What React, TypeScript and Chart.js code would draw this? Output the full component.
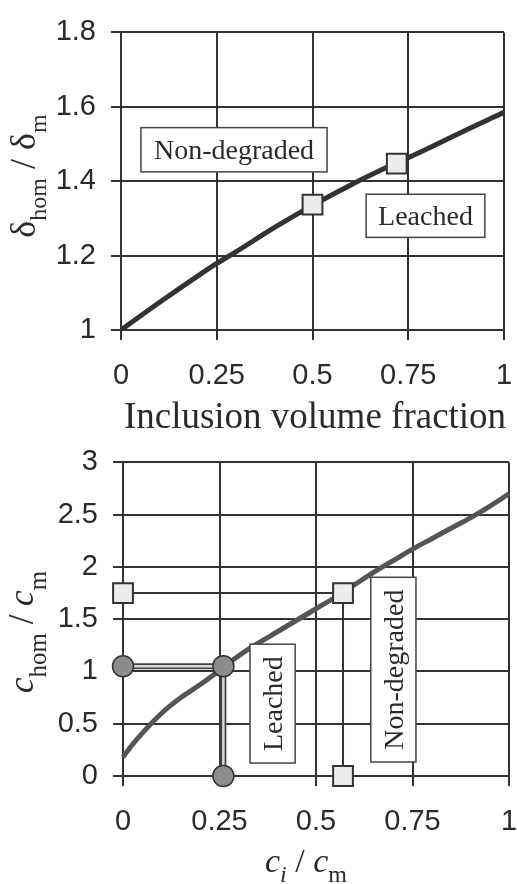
import React, { useEffect, useRef } from 'react';
import { Chart, registerables } from 'chart.js';
Chart.register(...registerables);

// ---------- Top chart data ----------
const topCurveX = [0, 0.1, 0.2, 0.25, 0.3, 0.4, 0.5, 0.6, 0.7, 0.75, 0.8, 0.9, 1];
const topCurveY = [1, 1.074, 1.145, 1.179, 1.21, 1.275, 1.335, 1.39, 1.44, 1.463, 1.487, 1.537, 1.585];
const topMarkX = [0.5, 0.72];
const topMarkY = [1.337, 1.447];
const topXTicks = [0, 0.25, 0.5, 0.75, 1];
const topYTicks = [1, 1.2, 1.4, 1.6, 1.8];

// ---------- Bottom chart data ----------
const botCurveX = [0, 0.02, 0.05, 0.1, 0.15, 0.2, 0.25, 0.3, 0.35, 0.4, 0.45, 0.5, 0.55, 0.6, 0.65, 0.7, 0.75, 0.8, 0.85, 0.9, 0.95, 1.0, 1.025];
const botCurveY = [0.18, 0.28, 0.41, 0.6, 0.75, 0.875, 1.01, 1.15, 1.27, 1.38, 1.49, 1.6, 1.71, 1.83, 1.95, 2.06, 2.17, 2.27, 2.37, 2.47, 2.58, 2.7, 2.76];
const leachedX = [0, 0.26, 0.26];
const leachedY = [1.05, 1.05, 0];
const nondegX = [0, 0.57, 0.57];
const nondegY = [1.75, 1.75, 0];
const botXTicks = [0, 0.25, 0.5, 0.75, 1];
const botYTicks = [0, 0.5, 1, 1.5, 2, 2.5, 3];

// ---------- Annotation boxes (data coordinates) ----------
const topBoxes = [
  { text: 'Non-degraded', x0: 0.052, x1: 0.538, y0: 1.425, y1: 1.544, vertical: false },
  { text: 'Leached', x0: 0.64, x1: 0.95, y0: 1.249, y1: 1.365, vertical: false },
];
const botBoxes = [
  { text: 'Leached', x0: 0.329, x1: 0.446, y0: 0.124, y1: 1.261, vertical: true },
  { text: 'Non-degraded', x0: 0.642, x1: 0.759, y0: 0.134, y1: 1.901, vertical: true },
];

const serif = '"Liberation Serif", "Times New Roman", serif';
const sans = '"Liberation Sans", Arial, sans-serif';
const ink = '#2a2a2a';

type Seg = { t: string; size: number; italic?: boolean; dy?: number };

function drawRich(ctx: CanvasRenderingContext2D, segs: Seg[], cx: number, cy: number, rotated: boolean) {
  ctx.save();
  ctx.fillStyle = ink;
  ctx.textBaseline = 'alphabetic';
  ctx.textAlign = 'left';
  const fontOf = (s: Seg) => `${s.italic ? 'italic ' : ''}${s.size}px ${serif}`;
  let total = 0;
  const widths = segs.map((s) => {
    ctx.font = fontOf(s);
    const w = ctx.measureText(s.t).width;
    total += w;
    return w;
  });
  ctx.translate(cx, cy);
  if (rotated) ctx.rotate(-Math.PI / 2);
  let x = -total / 2;
  segs.forEach((s, i) => {
    ctx.font = fontOf(s);
    ctx.fillText(s.t, x, s.dy || 0);
    x += widths[i];
  });
  ctx.restore();
}

function extrasPlugin(boxes: any[], titles: { segs: Seg[]; x: number; y: number; rot: boolean }[]) {
  return {
    id: 'extras',
    afterDatasetsDraw(chart: any) {
      const ctx = chart.ctx as CanvasRenderingContext2D;
      const xs = chart.scales.x;
      const ys = chart.scales.y;
      boxes.forEach((b) => {
        const l = xs.getPixelForValue(b.x0);
        const r = xs.getPixelForValue(b.x1);
        const t = ys.getPixelForValue(b.y1);
        const bt = ys.getPixelForValue(b.y0);
        ctx.save();
        ctx.fillStyle = '#fff';
        ctx.fillRect(l, t, r - l, bt - t);
        ctx.strokeStyle = '#444';
        ctx.lineWidth = 1.5;
        ctx.strokeRect(l, t, r - l, bt - t);
        ctx.fillStyle = ink;
        ctx.font = `28px ${serif}`;
        ctx.textAlign = 'center';
        ctx.textBaseline = 'middle';
        ctx.translate((l + r) / 2, (t + bt) / 2);
        if (b.vertical) ctx.rotate(-Math.PI / 2);
        ctx.fillText(b.text, 0, 2);
        ctx.restore();
      });
    },
    afterDraw(chart: any) {
      const ctx = chart.ctx as CanvasRenderingContext2D;
      titles.forEach((t) => drawRich(ctx, t.segs, t.x, t.y, t.rot));
    },
  };
}

function pts(xs: number[], ys: number[]) {
  return xs.map((x, i) => ({ x, y: ys[i] }));
}

function axis(min: number, max: number, tickVals: number[], isX: boolean, size: number) {
  return {
    type: 'linear',
    min,
    max,
    afterBuildTicks: (s: any) => {
      s.ticks = tickVals.map((v) => ({ value: v }));
    },
    afterFit: (s: any) => {
      if (isX) s.height = size;
      else s.width = size;
    },
    ticks: {
      autoSkip: false,
      maxRotation: 0,
      padding: isX ? 19 : 15,
      color: ink,
      font: { family: sans, size: 29 },
      callback: (v: any) => String(v),
    },
    grid: { color: '#333', lineWidth: 2, tickLength: 10, drawTicks: true },
    border: { color: '#333', width: 2 },
  };
}

function baseOptions(padTop: number, padRight: number, scales: any) {
  return {
    responsive: false,
    maintainAspectRatio: false,
    animation: false,
    events: [],
    layout: { padding: { top: padTop, right: padRight, left: 0, bottom: 0 } },
    plugins: { legend: { display: false }, tooltip: { enabled: false } },
    scales,
  };
}

function topConfig(): any {
  return {
    type: 'scatter',
    data: {
      datasets: [
        {
          data: pts(topMarkX, topMarkY),
          showLine: false,
          pointStyle: 'rect',
          pointRadius: 14,
          pointBackgroundColor: '#ececec',
          pointBorderColor: '#333',
          pointBorderWidth: 2,
          order: 0,
          clip: false,
        },
        {
          data: pts(topCurveX, topCurveY),
          showLine: true,
          pointRadius: 0,
          borderColor: '#333',
          borderWidth: 5,
          cubicInterpolationMode: 'monotone',
          order: 1,
        },
      ],
    },
    options: baseOptions(21, 36, {
      x: axis(0, 1, topXTicks, true, 100),
      y: axis(1, 1.8, topYTicks, false, 121),
    }),
    plugins: [
      extrasPlugin(topBoxes, [
        { segs: [{ t: 'Inclusion volume fraction', size: 37 }], x: 315, y: 428, rot: false },
        {
          segs: [
            { t: 'δ', size: 36 },
            { t: 'hom', size: 24, dy: 11 },
            { t: ' / ', size: 36 },
            { t: 'δ', size: 36 },
            { t: 'm', size: 24, dy: 11 },
          ],
          x: 35,
          y: 176,
          rot: true,
        },
      ]),
    ],
  };
}

function botConfig(): any {
  return {
    type: 'scatter',
    data: {
      datasets: [
        {
          data: pts(nondegX, nondegY),
          showLine: false,
          pointStyle: 'rect',
          pointRadius: 14,
          pointBackgroundColor: '#ececec',
          pointBorderColor: '#333',
          pointBorderWidth: 2,
          order: 0,
          clip: false,
        },
        {
          data: pts(leachedX, leachedY),
          showLine: false,
          pointStyle: 'circle',
          pointRadius: 10.5,
          pointBackgroundColor: '#8c8c8c',
          pointBorderColor: '#333',
          pointBorderWidth: 1.5,
          order: 0,
          clip: false,
        },
        {
          data: pts(botCurveX, botCurveY),
          showLine: true,
          pointRadius: 0,
          borderColor: '#555',
          borderWidth: 5,
          cubicInterpolationMode: 'monotone',
          order: 1,
          clip: false,
        },
        {
          data: pts(leachedX, leachedY),
          showLine: true,
          pointRadius: 0,
          borderColor: '#d8d8d8',
          borderWidth: 2.5,
          borderJoinStyle: 'miter',
          order: 2,
          clip: false,
        },
        {
          data: pts(leachedX, leachedY),
          showLine: true,
          pointRadius: 0,
          borderColor: '#444',
          borderWidth: 6,
          borderJoinStyle: 'miter',
          order: 3,
          clip: false,
        },
        {
          data: pts(nondegX, nondegY),
          showLine: true,
          pointRadius: 0,
          borderColor: '#333',
          borderWidth: 2,
          order: 3,
          clip: false,
        },
      ],
    },
    options: baseOptions(32, 31, {
      x: axis(0, 1, botXTicks, true, 108),
      y: axis(0, 3, botYTicks, false, 123),
    }),
    plugins: [
      extrasPlugin(botBoxes, [
        {
          segs: [
            { t: 'c', size: 34, italic: true },
            { t: 'i', size: 24, italic: true, dy: 10 },
            { t: ' / ', size: 34 },
            { t: 'c', size: 34, italic: true },
            { t: 'm', size: 24, dy: 10 },
          ],
          x: 306,
          y: 442,
          rot: false,
        },
        {
          segs: [
            { t: 'c', size: 35, italic: true },
            { t: 'hom', size: 25, dy: 13 },
            { t: ' / ', size: 35 },
            { t: 'c', size: 35, italic: true },
            { t: 'm', size: 25, dy: 13 },
          ],
          x: 33,
          y: 202,
          rot: true,
        },
      ]),
    ],
  };
}

function ChartCanvas({ make, width, height, top }: { make: () => any; width: number; height: number; top: number }) {
  const ref = useRef<HTMLCanvasElement>(null);
  useEffect(() => {
    const chart = new Chart(ref.current as HTMLCanvasElement, make());
    return () => chart.destroy();
  }, []);
  return (
    <canvas
      ref={ref}
      width={width}
      height={height}
      style={{ position: 'absolute', left: 0, top, width, height, display: 'block' }}
    />
  );
}

export default function App() {
  return (
    <div
      style={{
        position: 'absolute',
        left: 0,
        top: 0,
        width: 517,
        height: 884,
        overflow: 'hidden',
        background: '#fff',
      }}
    >
      <ChartCanvas make={topConfig} width={540} height={430} top={0} />
      <ChartCanvas make={botConfig} width={540} height={454} top={430} />
    </div>
  );
}
